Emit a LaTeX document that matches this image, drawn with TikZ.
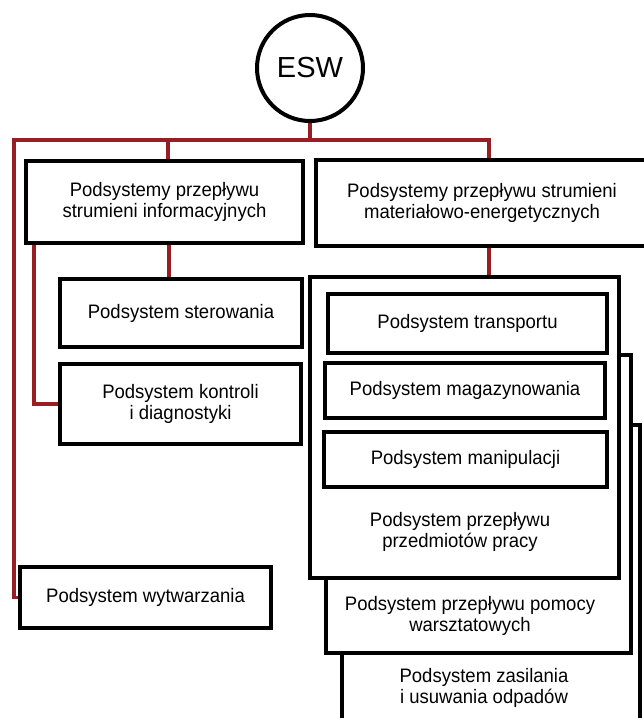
\documentclass[tikz,border=0pt]{standalone}
\usepackage{fontspec}
\setmainfont[FakeStretch=0.95]{Liberation Sans}
\newfontfamily\eswfont{Liberation Sans}
\usetikzlibrary{backgrounds}
\definecolor{wirered}{RGB}{152,30,36}
\begin{document}
\begin{tikzpicture}[x=1pt,y=-1pt,
  box/.style={draw=black,line width=4.5pt,fill=white,rectangle,inner sep=0pt,align=center,font=\fontsize{19.5}{21}\selectfont},
  lbl/.style={align=center,inner sep=0pt,font=\fontsize{19.5}{21}\selectfont},
  wire/.style={draw=wirered,line width=3.5pt,line join=miter}]
\useasboundingbox (0,0) rectangle (644,718);
\clip (0,0) rectangle (644,718);
\node[circle,draw=black,line width=4pt,fill=white,minimum size=106pt,inner sep=0pt,font=\eswfont\fontsize{29}{30}\selectfont] (esw) at (310,68) {ESW};
\node[box,minimum width=277pt,minimum height=82pt] (box1) at (164.5,202) {Podsystemy przepływu\\strumieni informacyjnych};
\node[box,minimum width=332pt,minimum height=86pt] (box2) at (482,203) {Podsystemy przepływu strumieni\\materiałowo-energetycznych};
\node[box,minimum width=242pt,minimum height=68pt] (ster) at (181,313) {Podsystem sterowania};
\node[box,minimum width=241pt,minimum height=80pt] (kon) at (180.5,404) {Podsystem kontroli\\i diagnostyki};
\node[box,minimum width=251pt,minimum height=61pt] (wyt) at (145.5,597.5) {Podsystem wytwarzania};
\node[box,minimum width=298pt,minimum height=335pt] (zas) at (491,592.5) {};
\node[box,minimum width=305pt,minimum height=298pt] (pom) at (478.5,504) {};
\node[box,minimum width=309pt,minimum height=301pt] (big) at (464.5,427.5) {};
\node[box,minimum width=279pt,minimum height=59pt] (tra) at (467.5,323.5) {Podsystem transportu};
\node[box,minimum width=280pt,minimum height=55pt] (mag) at (465,390.5) {Podsystem magazynowania};
\node[box,minimum width=283pt,minimum height=55pt] (man) at (465.5,459.5) {Podsystem manipulacji};
\node[lbl] (bigt) at (460,532) {Podsystem przepływu\\przedmiotów pracy};
\node[lbl] (pomt) at (470,616) {Podsystem przepływu pomocy\\warsztatowych};
\node[lbl] (zast) at (484,688) {Podsystem zasilania\\i usuwania odpadów};
\begin{scope}[on background layer]
\coordinate (busL) at (14,140);
\coordinate (busR) at (489,140);
\coordinate (tap1) at (168,140);
\coordinate (tap2) at (34,243);
\coordinate (tap3) at (169,243);
\draw[wire] (esw.south) -- (esw.south |- busL);
\draw[wire] (wyt.west) -| (busL) -- (busR) -- (busR |- box2.north);
\draw[wire] (tap1) -- (tap1 |- box1.north);
\draw[wire] (kon.west) -| (tap2);
\draw[wire] (tap3) -- (tap3 |- ster.north);
\draw[wire] (busR |- box2.south) -- (busR |- big.north);
\end{scope}
\end{tikzpicture}
\end{document}
